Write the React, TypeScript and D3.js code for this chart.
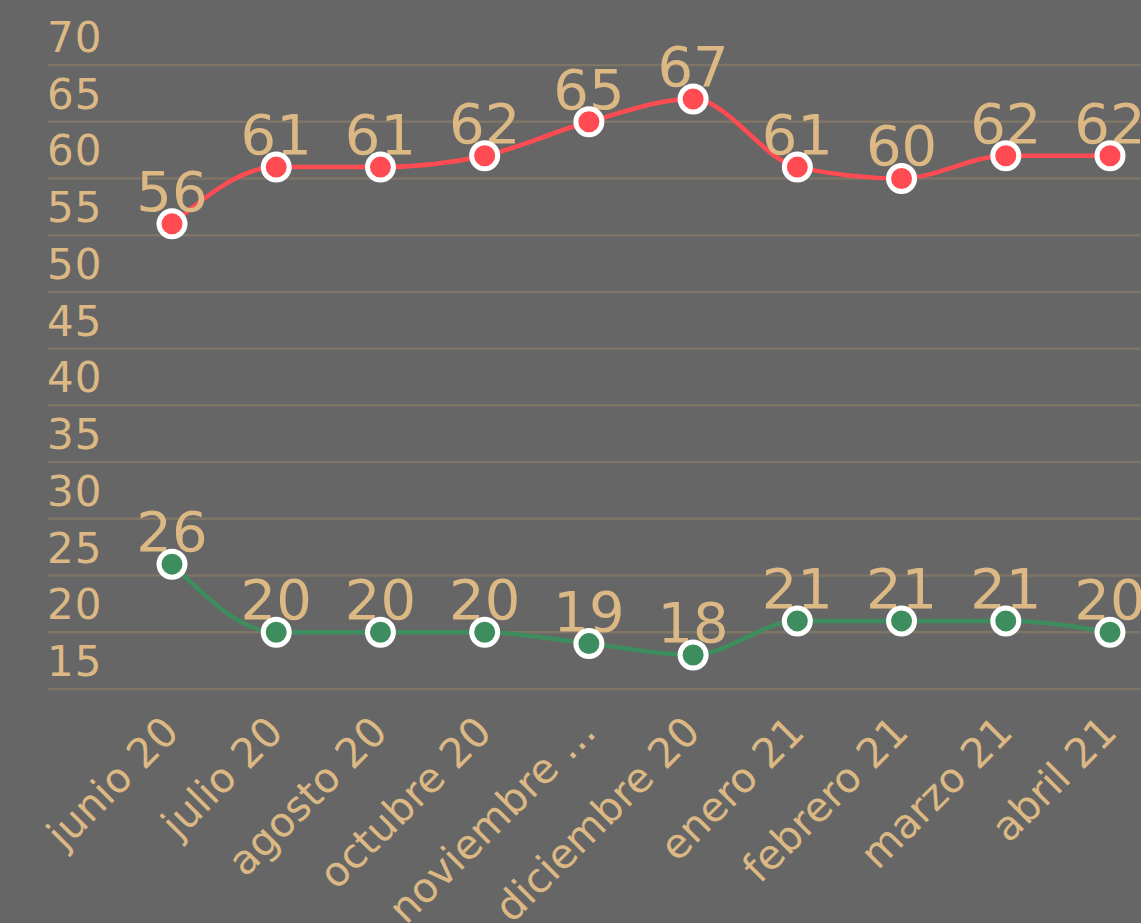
import React from 'react';
import * as d3 from 'd3';

const months = ['junio 20', 'julio 20', 'agosto 20', 'octubre 20', 'noviembre ...', 'diciembre 20', 'enero 21', 'febrero 21', 'marzo 21', 'abril 21'];
const redValues = [56, 61, 61, 62, 65, 67, 61, 60, 62, 62];
const greenValues = [26, 20, 20, 20, 19, 18, 21, 21, 21, 20];
const yTicks = [15, 20, 25, 30, 35, 40, 45, 50, 55, 60, 65, 70];

const W = 1141;
const H = 923;
const BG = '#666666';
const TAN = '#dcb984';
const GRID = '#7e7566';
const FONT = '"DejaVu Sans", "Open Sans", sans-serif';

const App = () => {
    // scales
    const x = d3.scalePoint<string>().domain(months).range([172, 1110]);
    const y = d3.scaleLinear().domain([15, 70]).range([689, 65]);

    const line = d3.line<number>()
        .x((d, i) => x(months[i]) as number)
        .y(d => y(d))
        .curve(d3.curveMonotoneX);

    const series = [
        { values: redValues, color: '#ff4b51' },
        { values: greenValues, color: '#3e8d5e' },
    ];

    return (
        <svg width={W} height={H} style={{ position: 'absolute', left: 0, top: 0, background: BG }}>
            <rect x={0} y={0} width={W} height={H} fill={BG} />
            {/* grid + y labels */}
            {yTicks.map(t => (
                <g key={t}>
                    <line x1={48} x2={W} y1={y(t)} y2={y(t)} stroke={GRID} strokeWidth={2.5} />
                    <text x={47} y={y(t) - 13} fill={TAN} fontSize={42} letterSpacing={1} fontFamily={FONT}>{t}</text>
                </g>
            ))}
            {/* x labels */}
            {months.map(m => (
                <text key={m} transform={`translate(${(x(m) as number) + 9},${734}) rotate(-45)`}
                    textAnchor="end" fill={TAN} fontSize={41} fontFamily={FONT}>{m}</text>
            ))}
            {/* lines */}
            {series.map((s, k) => (
                <path key={k} d={line(s.values) || ''} fill="none" stroke={s.color} strokeWidth={4.5} />
            ))}
            {/* data labels */}
            {series.map((s, k) => s.values.map((v, i) => (
                <text key={`${k}-${i}`} x={x(months[i])} y={y(v) - 13} textAnchor="middle"
                    fill={TAN} fontSize={56} fontFamily={FONT}>{v}</text>
            )))}
            {/* markers */}
            {series.map((s, k) => s.values.map((v, i) => (
                <circle key={`c${k}-${i}`} cx={x(months[i])} cy={y(v)} r={13}
                    fill={s.color} stroke="#ffffff" strokeWidth={5} />
            )))}
        </svg>
    );
};

export default App;
